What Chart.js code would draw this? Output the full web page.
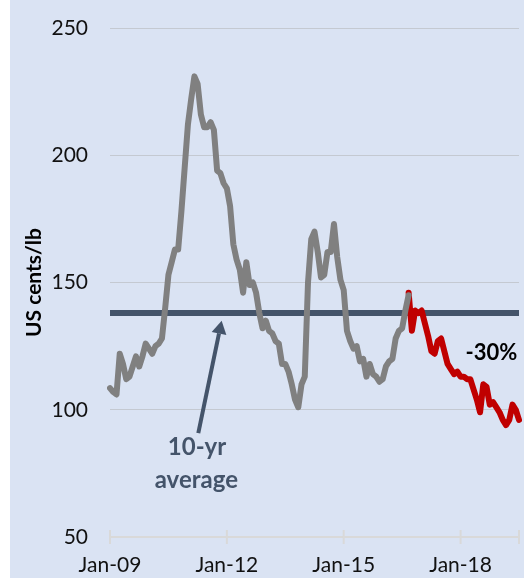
<!DOCTYPE html>
<html>
<head>
<meta charset="utf-8">
<script src="https://cdn.jsdelivr.net/npm/chart.js@4.4.1/dist/chart.umd.min.js"></script>
<style>
  html, body { margin: 0; padding: 0; background: #fff; }
  #wrap { width: 524px; height: 578px; background: linear-gradient(to right, #fff 10px, #dae3f3 10px); }
</style>
</head>
<body>
<div id="wrap"><canvas id="chart" width="524" height="578"></canvas></div>
<script>
// --- Data ---
const startYear = 2009;
const monthCount = 127; // Jan-09 .. Jul-19
const monthNames = ['Jan','Feb','Mar','Apr','May','Jun','Jul','Aug','Sep','Oct','Nov','Dec'];
const months = [];
for (let i = 0; i < monthCount; i++) {
    const y = startYear + Math.floor(i / 12);
    months.push(`${monthNames[i % 12]}-${String(y % 100).padStart(2, '0')}`);
}
const tickLabels = ['Jan-09', 'Jan-12', 'Jan-15', 'Jan-18'];

// history, Jan-09 .. Sep-16 (US cents/lb)
const histValues = [
    108.5, 107, 106, 122, 118, 112, 113, 117, 121, 117, 121, 126,
    124, 122, 125, 126, 128, 140, 153, 158, 163, 163, 178, 195,
    212, 222, 231, 228, 216, 211, 211, 213, 210, 194, 193, 189,
    187, 180, 165, 159, 155, 146, 158, 149, 150, 146, 138, 132,
    135, 131, 130, 127, 126, 118, 118, 115, 110, 104, 101, 110,
    113, 150, 167, 170, 162, 152, 153, 162, 162, 173, 160, 151,
    147, 131, 127, 124, 125, 119, 120, 113, 118, 114, 113, 111,
    112, 117, 119, 120, 128, 131, 132, 139, 145
];
// recent fall, Sep-16 .. Jul-19
const recentStart = 92;
const recentValues = [
    146, 131, 139, 138, 139, 134, 129, 123, 122, 127, 128, 123,
    118, 116, 114, 115, 113, 113, 112, 112, 108, 104, 99, 110,
    109, 102, 103, 101, 99, 96, 94, 96, 102, 100, 96
];
const avgValue = 138; // 10-yr average
const avgPoints = [
    { x: months[0], y: avgValue },
    { x: months[monthCount - 1], y: avgValue }
];

const recentData = Array(recentStart).fill(null).concat(recentValues);

const slate = '#44546a';
const fontFam = 'Lato, "Open Sans", sans-serif';

// --- Annotations (arrow, labels, x tick marks) ---
const notes = {
    id: 'notes',
    afterDraw(chart) {
        const { ctx, scales: { x, y }, chartArea } = chart;
        ctx.save();

        // tick marks crossing the x axis
        ctx.strokeStyle = '#d9d9d9';
        ctx.lineWidth = 2;
        const marks = tickLabels.map(l => months.indexOf(l)).concat([monthCount - 1]);
        marks.forEach(i => {
            const px = x.getPixelForValue(i);
            ctx.beginPath();
            ctx.moveTo(px, chartArea.bottom - 7);
            ctx.lineTo(px, chartArea.bottom + 7);
            ctx.stroke();
        });

        // arrow to the average line
        const x0 = x.getPixelForValue(27.2), y0 = y.getPixelForValue(90.8);
        const x1 = x.getPixelForValue(34.4), y1 = y.getPixelForValue(135);
        const ang = Math.atan2(y1 - y0, x1 - x0);
        const head = 13, half = 7.5;
        const bx = x1 - head * Math.cos(ang), by = y1 - head * Math.sin(ang);
        ctx.strokeStyle = slate; ctx.fillStyle = slate; ctx.lineWidth = 4;
        ctx.beginPath(); ctx.moveTo(x0, y0); ctx.lineTo(bx, by); ctx.stroke();
        ctx.beginPath();
        ctx.moveTo(x1, y1);
        ctx.lineTo(bx + half * Math.sin(ang), by - half * Math.cos(ang));
        ctx.lineTo(bx - half * Math.sin(ang), by + half * Math.cos(ang));
        ctx.closePath(); ctx.fill();

        // labels
        ctx.textAlign = 'center'; ctx.textBaseline = 'middle';
        ctx.font = `bold 24px ${fontFam}`;
        ctx.fillText('10-yr', x.getPixelForValue(26.8), y.getPixelForValue(85.3));
        ctx.fillText('average', x.getPixelForValue(26.6), y.getPixelForValue(72.4));
        ctx.fillStyle = '#000';
        ctx.font = `bold 22px ${fontFam}`;
        ctx.fillText('-30%', x.getPixelForValue(117.5), y.getPixelForValue(122.5));
        ctx.restore();
    }
};

new Chart(document.getElementById('chart'), {
    type: 'line',
    data: {
        labels: months,
        datasets: [
            { label: 'History', data: histValues, borderColor: '#808080', borderWidth: 6, pointRadius: 0, tension: 0, borderJoinStyle: 'round', borderCapStyle: 'round' },
            { label: 'Recent', data: recentData, borderColor: '#c00000', borderWidth: 6, pointRadius: 0, tension: 0, borderJoinStyle: 'round', borderCapStyle: 'round' },
            { label: '10-yr average', data: avgPoints, borderColor: slate, borderWidth: 6, pointRadius: 0 }
        ]
    },
    options: {
        responsive: false,
        animation: false,
        layout: { padding: { top: 28, right: 5, left: 10, bottom: 0 } },
        plugins: { legend: { display: false }, tooltip: { enabled: false } },
        scales: {
            x: {
                grid: { display: false },
                border: { display: true, color: '#d9d9d9', width: 2 },
                ticks: {
                    autoSkip: false, maxRotation: 0, padding: 8, color: '#111',
                    font: { family: fontFam, size: 21 },
                    callback: (v, i) => tickLabels.includes(months[i]) ? months[i] : ''
                },
                afterFit: s => { s.height = 41; s.paddingLeft = 0; s.paddingRight = 0; }
            },
            y: {
                min: 50, max: 250,
                border: { display: false },
                grid: {
                    color: c => c.tick.value === 50 ? 'rgba(0,0,0,0)' : '#c4c9d1',
                    borderDash: [1, 2], drawTicks: false, lineWidth: 1
                },
                ticks: { stepSize: 50, padding: 22, color: '#111', font: { family: fontFam, size: 21 } },
                title: { display: true, text: 'US cents/lb', color: '#000', font: { family: fontFam, size: 21, weight: 'bold' }, padding: { top: 12, bottom: 0 } },
                afterFit: s => { s.width = 100; s.paddingTop = 0; s.paddingBottom = 0; }
            }
        }
    },
    plugins: [notes]
});
</script>
</body>
</html>
